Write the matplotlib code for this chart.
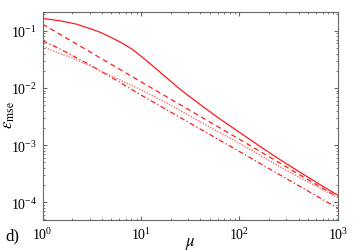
import matplotlib
matplotlib.use('Agg')
import matplotlib.pyplot as plt

# values (log-log)
mu_solid = [1, 1.5, 2.2, 3, 3.8, 5, 6.5, 8.2, 11, 15, 20, 24, 30, 40, 60, 100, 160, 256, 400, 640, 1000]
err_solid = [0.165, 0.150, 0.131, 0.110, 0.095, 0.0763, 0.0603, 0.047, 0.0315, 0.0200, 0.0131,
             0.0100, 0.0074, 0.0051, 0.00305, 0.00167, 9.6e-4, 5.6e-4, 3.45e-4, 2.09e-4, 1.32e-4]

mu_dashed = [1, 10, 100, 1000]
err_dashed = [0.131, 0.0128, 1.26e-3, 1.22e-4]

mu_dashdot = [1, 1.5, 2, 3, 5, 10, 100, 1000]
err_dashdot = [0.067, 0.048, 0.037, 0.0255, 0.0153, 0.0075, 7.7e-4, 7.8e-5]

mu_dotted = [1, 1.5, 2, 3, 5, 10, 20, 40, 100, 300, 1000]
err_dotted = [0.0525, 0.040, 0.0335, 0.0245, 0.0162, 0.0093, 0.0050, 2.55e-3, 1.07e-3, 3.6e-4, 1.2e-4]

plt.rcParams['font.family'] = ['Liberation Serif', 'DejaVu Serif']
plt.rcParams['mathtext.fontset'] = 'stix'
plt.rcParams['font.size'] = 10

fig = plt.figure(figsize=(3.61, 2.53), dpi=100)
ax = fig.add_axes([0.118, 0.126, 0.818, 0.821])

red = '#ff1a1a'
ax.plot(mu_solid, err_solid, '-', color=red, lw=0.9)
ax.plot(mu_dashed, err_dashed, '--', color=red, lw=0.9, dashes=(4, 3))
ax.plot(mu_dashdot, err_dashdot, '-.', color=red, lw=0.9, dashes=(4, 2, 1, 2))
ax.plot(mu_dotted, err_dotted, ':', color='#ff7070', lw=1.0, dashes=(1, 1))

ax.set_xscale('log')
ax.set_yscale('log')
ax.set_xlim(1, 1000)
ax.set_ylim(4.85e-5, 0.21)

for s in ax.spines.values():
    s.set_color('#666666')
    s.set_linewidth(0.8)
ax.tick_params(which='both', direction='in', top=True, right=True, colors='#666666', labelcolor='black')
ax.tick_params(which='major', length=3, pad=4)
ax.tick_params(which='minor', length=1.5)

ax.set_xlabel(r'$\mu$', fontsize=12, labelpad=-5)
ax.set_ylabel(r'$\bar{\epsilon}_{\mathrm{mse}}$', fontsize=12)
ax.yaxis.set_label_coords(-0.085, 0.51)
fig.text(0.015, 0.05, 'd)', fontsize=12)

fig.savefig('out.png', dpi=100)
